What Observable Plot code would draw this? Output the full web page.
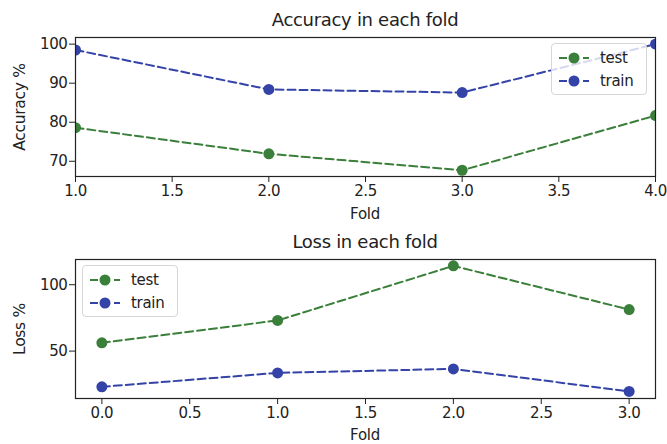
<!DOCTYPE html>
<html><head><meta charset="utf-8">
<script src="https://cdn.jsdelivr.net/npm/d3@7"></script>
<script src="https://cdn.jsdelivr.net/npm/@observablehq/plot@0.6"></script>
<style>
body{margin:0;background:#fff;font-family:"DejaVu Sans",sans-serif;}
#wrap{position:relative;width:667px;height:444px;overflow:hidden;}
.chart{position:absolute;left:0;}
.t{position:absolute;white-space:nowrap;color:#222;letter-spacing:-0.3px;}
.legend{position:absolute;background:rgba(255,255,255,0.8);border:1px solid #d6d6d6;border-radius:4px;font-size:15px;padding:2px 13px 2px 6px;color:#222;letter-spacing:-0.3px;}
.legend div{display:flex;align-items:center;height:23px;}
.legend svg{margin-right:10px;}
</style></head>
<body><div id="wrap"></div>
<script>
const accFolds = [1, 2, 3, 4];
const accTest = [78.6, 71.9, 67.7, 81.7];
const accTrain = [98.5, 88.4, 87.6, 100.0];
const lossFolds = [0, 1, 2, 3];
const lossTest = [56.2, 73.1, 114.2, 81.3];
const lossTrain = [23.1, 33.6, 36.6, 19.6];
const seriesNames = ["test", "train"];
const colors = {test: "#3a7f3a", train: "#3443a8"};
const accXTicks = [1.0, 1.5, 2.0, 2.5, 3.0, 3.5, 4.0];
const accYTicks = [70, 80, 90, 100];
const lossXTicks = [0.0, 0.5, 1.0, 1.5, 2.0, 2.5, 3.0];
const lossYTicks = [50, 100];

const wrap = document.getElementById("wrap");
function rows(folds, test, train){
  const r = [];
  folds.forEach((f,i)=>{ r.push({fold:f, v:test[i], s:"test"}); r.push({fold:f, v:train[i], s:"train"}); });
  return r;
}
function makeChart(data, xDomain, yDomain, xTicks, yTicks, top){
  const p = Plot.plot({
    width: 667, height: 222,
    marginLeft: 75, marginRight: 12, marginTop: 37, marginBottom: 46,
    style: {fontFamily: '"DejaVu Sans", sans-serif', fontSize: "15px", color: "#222", background: "transparent", letterSpacing: "-0.4px"},
    x: {domain: xDomain},
    y: {domain: yDomain},
    marks: [
      Plot.axisX({ticks: xTicks, tickFormat: d3.format(".1f"), tickSize: 6, tickPadding: 3, label: null, fontSize: 15}),
      Plot.axisY({ticks: yTicks, tickSize: 6, tickPadding: 2, label: null, fontSize: 15}),
      Plot.line(data, {x: "fold", y: "v", z: "s", stroke: d => colors[d.s], strokeWidth: 2, strokeDasharray: "8,4", clip: true}),
      Plot.dot(data, {x: "fold", y: "v", fill: d => colors[d.s], r: 5.5, clip: true}),
      Plot.frame({stroke: "#222", strokeWidth: 1.2})
    ]
  });
  p.classList.add("chart");
  p.style.top = top + "px";
  wrap.appendChild(p);
}
makeChart(rows(accFolds, accTest, accTrain), [1, 4], [66.1, 101.7], accXTicks, accYTicks, 0);
makeChart(rows(lossFolds, lossTest, lossTrain), [-0.15, 3.15], [14.3, 119.0], lossXTicks, lossYTicks, 222);

function text(str, x, y, size, rot){
  const d = document.createElement("div");
  d.className = "t"; d.textContent = str;
  d.style.fontSize = size + "px";
  d.style.left = x + "px"; d.style.top = y + "px";
  d.style.transform = "translate(-50%,-50%)" + (rot ? " rotate(-90deg)" : "");
  wrap.appendChild(d);
}
text("Accuracy in each fold", 365, 19, 18);
text("Fold", 365, 214, 15);
text("Accuracy %", 20, 107, 15.5, true);
text("Loss in each fold", 365, 241, 18);
text("Fold", 365, 435, 15);
text("Loss %", 20, 329, 15.5, true);

function legend(x, y){
  const L = document.createElement("div");
  L.className = "legend";
  L.style.left = x + "px"; L.style.top = y + "px";
  seriesNames.forEach(s=>{
    const row = document.createElement("div");
    const c = colors[s];
    row.innerHTML = `<svg width="32" height="12"><line x1="1" y1="6" x2="31" y2="6" stroke="${c}" stroke-width="2" stroke-dasharray="8,4"/><circle cx="16" cy="6" r="5.5" fill="${c}"/></svg>`;
    const sp = document.createElement("span"); sp.textContent = s;
    row.appendChild(sp);
    L.appendChild(row);
  });
  wrap.appendChild(L);
}
legend(551, 43);
legend(82, 265);
</script></body></html>
